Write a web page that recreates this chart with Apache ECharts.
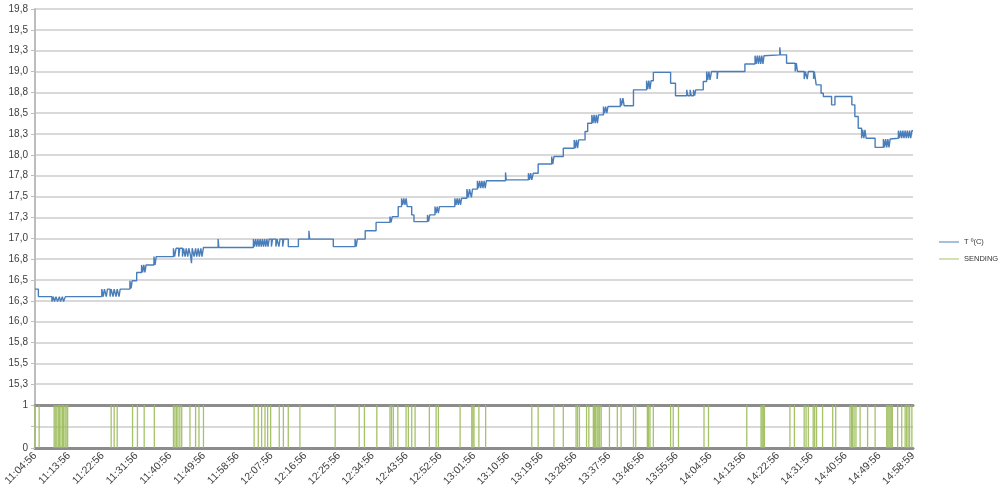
<!DOCTYPE html>
<html>
<head>
<meta charset="utf-8">
<script src="https://cdn.jsdelivr.net/npm/echarts/dist/echarts.min.js"></script>
<style>
  html, body { margin: 0; padding: 0; background: #fff; }
  #chart { width: 1000px; height: 492px; }
</style>
</head>
<body>
<div id="chart"></div>
<script>
// x values are minutes after 11:04:56
var tickLabels = ['11:04:56', '11:13:56', '11:22:56', '11:31:56', '11:40:56', '11:49:56', '11:58:56',
  '12:07:56', '12:16:56', '12:25:56', '12:34:56', '12:43:56', '12:52:56', '13:01:56', '13:10:56',
  '13:19:56', '13:28:56', '13:37:56', '13:46:56', '13:55:56', '14:04:56', '14:13:56', '14:22:56',
  '14:31:56', '14:40:56', '14:49:56', '14:58:59'];

// temperature change points [minute, T]
var temp11 = [[0, 16.39], [0.9, 16.30], [4.5, 16.24], [4.9, 16.30], [5.2, 16.24], [5.6, 16.30], [6.0, 16.24], [6.5, 16.30],
  [6.8, 16.24], [7.3, 16.30], [7.6, 16.24], [8.1, 16.30],
  [17.8, 16.39], [18.2, 16.30], [18.5, 16.39], [19.0, 16.30], [19.3, 16.39], [20.0, 16.30], [20.3, 16.39], [20.8, 16.30],
  [21.1, 16.39], [21.6, 16.30], [21.9, 16.39], [22.4, 16.30], [22.7, 16.39],
  [25.3, 16.49], [25.6, 16.40], [25.9, 16.49], [27.1, 16.59], [28.4, 16.68], [28.7, 16.59], [29.0, 16.68], [29.3, 16.59],
  [29.6, 16.68], [31.7, 16.78], [32.0, 16.68], [32.3, 16.78],
  [36.9, 16.88], [37.2, 16.78], [37.6, 16.88], [38.3, 16.78], [38.6, 16.88], [39.3, 16.78], [39.6, 16.88], [40.0, 16.78],
  [40.3, 16.88], [40.7, 16.78], [41.0, 16.88], [41.5, 16.78], [41.7, 16.70], [41.9, 16.88], [42.4, 16.78], [42.8, 16.88],
  [43.1, 16.78], [43.5, 16.88], [43.8, 16.78], [44.2, 16.88], [44.5, 16.78], [44.9, 16.89],
  [48.8, 16.99], [49.0, 16.89]];
var temp12 = [[58.2, 16.99], [58.5, 16.90], [58.8, 16.99], [59.1, 16.90], [59.4, 16.99], [59.7, 16.90], [60.0, 16.99],
  [60.3, 16.90], [60.6, 16.99], [60.9, 16.90], [61.2, 16.99], [61.5, 16.90], [61.8, 16.99], [62.1, 16.90], [62.4, 16.99],
  [63.0, 16.90], [63.3, 16.99], [64.2, 16.90], [64.5, 16.99], [65.0, 16.90], [65.3, 16.99], [66.0, 16.90], [66.3, 16.99],
  [67.5, 16.90], [70.2, 16.99], [73.0, 17.09], [73.2, 16.99], [79.5, 16.90], [85.3, 16.99], [85.6, 16.90], [85.9, 16.99],
  [88.0, 17.09], [90.9, 17.19], [94.6, 17.26], [94.9, 17.19], [95.2, 17.26],
  [96.8, 17.38], [97.7, 17.48], [98.0, 17.40], [98.3, 17.48], [98.6, 17.40], [98.9, 17.48], [99.2, 17.38], [100.4, 17.28],
  [101.0, 17.20], [104.6, 17.28], [104.9, 17.20], [105.2, 17.28], [106.6, 17.38], [106.9, 17.30], [107.2, 17.38],
  [107.5, 17.30], [107.8, 17.38], [111.9, 17.48], [112.2, 17.40], [112.5, 17.48], [112.8, 17.40], [113.1, 17.48],
  [113.4, 17.40], [113.7, 17.48]];
var temp13 = [[115.1, 17.59], [115.5, 17.49], [115.8, 17.59], [116.3, 17.49], [116.6, 17.59], [117.9, 17.69], [118.2, 17.60],
  [118.5, 17.69], [118.8, 17.60], [119.1, 17.69], [119.4, 17.60], [119.7, 17.69], [120.0, 17.60], [120.3, 17.69],
  [125.4, 17.79], [125.6, 17.70], [131.5, 17.78], [131.8, 17.70], [132.1, 17.78], [132.4, 17.70], [132.8, 17.78],
  [134.1, 17.89], [137.7, 17.98], [138.0, 17.89], [138.3, 17.98], [140.8, 18.08], [143.7, 18.18], [144.0, 18.08],
  [144.3, 18.18], [144.6, 18.08], [144.9, 18.18], [146.6, 18.28], [147.3, 18.38], [148.4, 18.48], [148.7, 18.38],
  [149.0, 18.48], [149.3, 18.38], [149.6, 18.48], [149.9, 18.38], [150.2, 18.48], [151.5, 18.58], [151.8, 18.50],
  [152.1, 18.58], [152.4, 18.50], [152.7, 18.58], [156.0, 18.68], [156.3, 18.59], [156.7, 18.68], [157.0, 18.59],
  [159.5, 18.78], [163.0, 18.89], [163.3, 18.79], [163.6, 18.89], [163.9, 18.79], [164.2, 18.89], [164.8, 18.99],
  [169.4, 18.86], [170.7, 18.71], [173.7, 18.78], [174.0, 18.71], [174.6, 18.78], [174.9, 18.71], [175.5, 18.78],
  [175.8, 18.71], [176.1, 18.78]];
var temp14 = [[178.1, 18.88], [179.0, 19.00], [179.3, 18.90], [179.6, 19.00], [179.9, 18.90], [180.3, 19.00], [181.8, 18.91],
  [182.0, 19.00], [189.2, 19.09], [191.9, 19.19], [192.2, 19.09], [192.5, 19.19], [192.8, 19.09], [193.1, 19.19],
  [193.4, 19.09], [193.7, 19.19], [194.0, 19.09], [194.3, 19.19], [194.6, 19.20], [198.5, 19.29], [198.7, 19.20],
  [200.3, 19.10], [202.6, 19.00], [202.9, 19.10], [203.2, 19.00], [205.0, 18.91], [205.3, 19.00], [205.8, 18.91],
  [206.1, 19.00], [207.5, 18.91], [207.7, 19.00], [208.2, 18.84], [209.5, 18.74], [210.1, 18.70], [212.3, 18.60],
  [213.2, 18.70], [217.7, 18.60], [218.5, 18.46], [219.4, 18.32], [220.3, 18.20], [220.6, 18.30], [220.9, 18.20],
  [221.2, 18.30], [221.5, 18.20], [223.9, 18.09], [226.1, 18.19], [226.4, 18.09], [226.7, 18.19], [227.0, 18.09],
  [227.3, 18.19], [227.6, 18.09], [227.9, 18.19], [228.3, 18.20], [230.1, 18.29], [230.4, 18.20], [230.7, 18.29],
  [231.0, 18.20], [231.3, 18.29], [231.6, 18.20], [231.9, 18.29], [232.2, 18.20], [232.5, 18.29], [232.8, 18.20],
  [233.1, 18.29], [233.4, 18.20], [233.7, 18.29], [234, 18.29]];

// minutes where SENDING = 1
var sendMinutes = [0, 1.1, 5.1, 5.4, 5.8, 6.2, 6.5, 6.9, 7.3, 7.6, 8.0, 8.3, 8.7, 20.3, 21.1, 21.9, 26.0, 27.3, 29.1, 31.8,
  36.9, 37.3, 37.7, 38.1, 38.6, 39.1, 41.3, 42.8, 43.7, 44.9, 58.4, 59.5, 60.4, 61.3, 62.0, 62.8, 65.1, 66.2, 67.5, 70.6,
  80.0, 86.4, 87.8, 91.1, 94.6, 95.0, 95.5, 96.7, 98.9, 99.5, 100.4, 101.3, 105.1, 106.9, 107.5, 113.3, 116.4, 116.7,
  117.0, 118.3, 120.1, 132.4, 134.1, 138.3, 140.8, 144.2, 144.6, 145.1, 147.0, 147.6, 148.8, 149.1, 149.4, 149.8, 150.1,
  150.5, 150.9, 153.1, 155.2, 156.2, 159.5, 160.1, 163.2, 163.5, 163.9, 164.8, 169.4, 170.1, 171.5, 178.3, 179.5, 189.7,
  193.5, 193.8, 194.1, 194.4, 201.2, 202.4, 205.0, 205.5, 206.1, 207.4, 207.8, 208.3, 209.9, 212.6, 213.4, 217.2, 217.6,
  217.9, 218.3, 218.8, 219.9, 221.9, 223.9, 227.0, 227.3, 227.6, 227.9, 228.2, 228.5, 229.9, 231.0, 231.9, 232.3, 232.7,
  233.1, 233.7];

var tempData = temp11.concat(temp12, temp13, temp14);
var sendData = sendMinutes.map(function (m) { return [m, 1]; });

var labelFont = 'Liberation Sans';
var gridColor = '#cccccc';
var frameColor = '#8c8c8c';

var chart = echarts.init(document.getElementById('chart'));

var option = {
  animation: false,
  backgroundColor: '#fff',
  legend: {
    orient: 'vertical',
    left: 934,
    top: 233,
    itemWidth: 20,
    itemHeight: 1,
    itemGap: 9,
    icon: 'rect',
    textStyle: { fontFamily: labelFont, fontSize: 7.5, color: '#333' },
    data: ['T º(C)', 'SENDING'],
  },
  grid: [
    { left: 35, right: 87, top: 9, height: 396 },
    { left: 35, right: 87, top: 405, height: 43 },
  ],
  xAxis: [
    {
      type: 'value', gridIndex: 0, min: 0, max: 234,
      axisLine: { show: true, lineStyle: { color: frameColor, width: 3 } },
      axisTick: { show: false }, axisLabel: { show: false }, splitLine: { show: false },
    },
    {
      type: 'value', gridIndex: 1, min: 0, max: 234, interval: 9,
      axisLine: { show: true, lineStyle: { color: frameColor, width: 3 } },
      axisTick: { show: false }, splitLine: { show: false },
      axisLabel: {
        rotate: 45, margin: 6, fontFamily: labelFont, fontSize: 10.5, color: '#404040',
        formatter: function (v) { return tickLabels[Math.round(v / 9)] || ''; },
      },
    },
  ],
  yAxis: [
    {
      type: 'value', gridIndex: 0, min: 15, max: 19.75, interval: 0.25,
      axisLine: { show: true, lineStyle: { color: '#bdbdbd', width: 2 } },
      axisTick: { show: true, length: 4, lineStyle: { color: '#bdbdbd' } },
      splitLine: { lineStyle: { color: gridColor, width: 1.5 } },
      axisLabel: {
        showMinLabel: false, margin: 7, fontFamily: labelFont, fontSize: 10, color: '#404040',
        formatter: function (v) { return v.toFixed(1).replace('.', ','); },
      },
    },
    {
      type: 'value', gridIndex: 1, min: 0, max: 1, interval: 0.5,
      axisLine: { show: true, lineStyle: { color: '#bdbdbd', width: 2 } },
      axisTick: { show: true, length: 4, lineStyle: { color: '#bdbdbd' } },
      splitLine: { lineStyle: { color: gridColor, width: 1.5 } },
      axisLabel: {
        margin: 7, fontFamily: labelFont, fontSize: 10, color: '#404040',
        formatter: function (v) { return v % 1 === 0 ? String(v) : ''; },
      },
    },
  ],
  series: [
    {
      name: 'T º(C)',
      type: 'line',
      xAxisIndex: 0,
      yAxisIndex: 0,
      step: 'end',
      showSymbol: false,
      color: '#4a7ebb',
      lineStyle: { width: 1.4 },
      data: tempData,
    },
    {
      name: 'SENDING',
      type: 'bar',
      xAxisIndex: 1,
      yAxisIndex: 1,
      barWidth: 1.3,
      color: '#9bbb59',
      itemStyle: { opacity: 0.9 },
      data: sendData,
    },
  ],
};

chart.setOption(option);
</script>
</body>
</html>
